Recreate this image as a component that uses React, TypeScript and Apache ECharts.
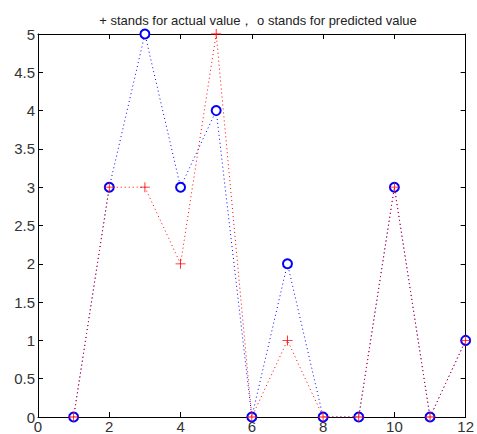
import React, { useEffect, useRef } from "react";
import * as echarts from "echarts";

const xValues = [1, 2, 3, 4, 5, 6, 7, 8, 9, 10, 11, 12];
const actualValues = [0, 3, 3, 2, 5, 0, 1, 0, 0, 3, 0, 1];
const predictedValues = [0, 3, 5, 3, 4, 0, 2, 0, 0, 3, 0, 1];
const titleText = "+ stands for actual value\uFF0C o stands for predicted value";

const PLUS = "path://M4.6,0H5.4V10H4.6ZM0,4.6H10V5.4H0Z";

export default function App() {
  const ref = useRef<HTMLDivElement>(null);
  useEffect(() => {
    if (!ref.current) return;
    const chart = echarts.init(ref.current, null, { renderer: "svg" });
    const font = "Liberation Sans, Arial, sans-serif";
    const axisCommon = {
      axisLine: { show: true, onZero: false, lineStyle: { color: "#000", width: 1 } },
      axisTick: { show: true, inside: true, length: 5, lineStyle: { color: "#000", width: 1 } },
      splitLine: { show: false },
    };
    chart.setOption({
      animation: false,
      backgroundColor: "#fff",
      title: {
        text: titleText,
        left: 253,
        top: 9,
        textAlign: "center",
        textStyle: { fontSize: 13, fontWeight: "normal", color: "#222", fontFamily: font },
      },
      grid: { left: 38, right: 8, top: 34, bottom: 16 },
      xAxis: [
        {
          type: "value",
          min: 0,
          max: 12,
          interval: 2,
          position: "bottom",
          ...axisCommon,
          axisLabel: { color: "#333", fontSize: 15, fontFamily: font, margin: 2 },
        },
        {
          type: "value",
          min: 0,
          max: 12,
          interval: 2,
          position: "top",
          ...axisCommon,
          axisLabel: { show: false },
        },
      ],
      yAxis: [
        {
          type: "value",
          min: 0,
          max: 5,
          interval: 0.5,
          position: "left",
          ...axisCommon,
          axisLabel: { color: "#333", fontSize: 15, fontFamily: font, margin: 3 },
        },
        {
          type: "value",
          min: 0,
          max: 5,
          interval: 0.5,
          position: "right",
          ...axisCommon,
          axisLabel: { show: false },
        },
      ],
      series: [
        {
          type: "line",
          name: "predicted",
          data: xValues.map((x, i) => [x, predictedValues[i]]),
          symbol: "emptyCircle",
          symbolSize: 9,
          showAllSymbol: true,
          lineStyle: { color: "#0000ff", width: 1, type: [1, 3] },
          itemStyle: { color: "#0000ff", borderColor: "#0000ff", borderWidth: 0.8 },
          z: 2,
        },
        {
          type: "line",
          name: "actual",
          data: xValues.map((x, i) => [x, actualValues[i]]),
          symbol: PLUS,
          symbolSize: 10,
          showAllSymbol: true,
          lineStyle: { color: "#ff0000", width: 1, type: [1, 3] },
          itemStyle: { color: "#ff0000", borderWidth: 0 },
          z: 3,
        },
      ],
    });
    return () => chart.dispose();
  }, []);
  return <div ref={ref} style={{ width: 477, height: 434, position: "fixed", left: 0, top: 0 }} />;
}
